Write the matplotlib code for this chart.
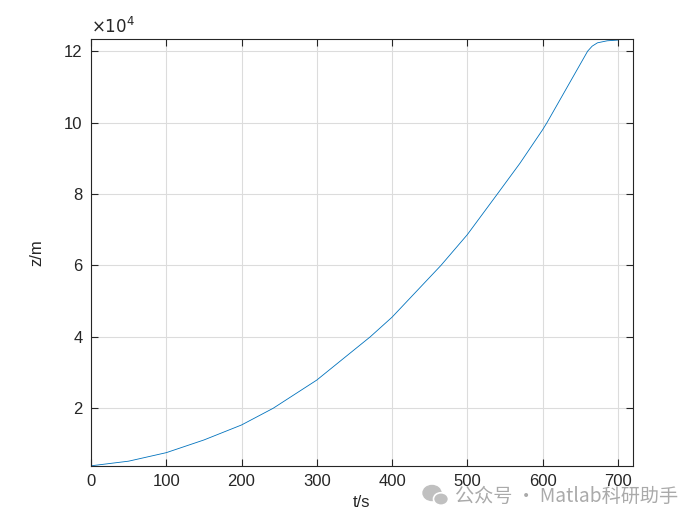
import numpy as np
import matplotlib.pyplot as plt
from matplotlib.patches import Ellipse

# values (time in s, altitude in m)
t_s = [0, 50, 100, 150, 200, 242, 300, 371, 400, 465, 500, 540, 570,
       600, 606, 660, 666, 673, 686, 700]
z_m = [3900, 5200, 7580, 11130, 15330, 20000, 27900, 40000, 45500, 60000,
       68600, 80000, 88600, 97950, 100000, 120000, 121400, 122330, 122900,
       123100]
x_ticks = [0, 100, 200, 300, 400, 500, 600, 700]
y_ticks = [20000, 40000, 60000, 80000, 100000, 120000]

plt.rcParams['font.family'] = ['Liberation Sans', 'DejaVu Sans']
dark = '#262626'

fig = plt.figure(figsize=(7, 5.25), dpi=100)
ax = fig.add_axes([0.13, 0.1124, 0.774, 0.8133])

ax.plot(t_s, z_m, color='#0072BD', linewidth=0.6)

ax.set_xlim(0, 720)
ax.set_ylim(3850, 123400)
ax.set_xticks(x_ticks)
ax.set_yticks(y_ticks)
ax.set_yticklabels([f'{v / 1e4:g}' for v in y_ticks])

ax.grid(True, color='#dcdcdc', linewidth=0.8)
ax.set_axisbelow(True)
ax.tick_params(direction='in', top=True, right=True, length=5, width=0.8,
               colors=dark, labelsize=12, pad=6)
for s in ax.spines.values():
    s.set_color(dark)
    s.set_linewidth(0.8)

ax.set_xlabel('t/s', fontsize=12, color=dark, labelpad=4)
ax.set_ylabel('z/m', fontsize=12, color=dark, labelpad=14)
ax.text(0.0, 1.005, r'$\times10^{4}$', transform=ax.transAxes, fontsize=12,
        color=dark, ha='left', va='bottom', family='DejaVu Sans')

# watermark
fig.text(455 / 700, 1 - 496 / 525, '公众号 · Matlab科研助手', fontsize=13.8,
         color='#aaaaaa', ha='left', va='center',
         family=['Noto Sans CJK SC', 'DejaVu Sans'])
wax = fig.add_axes([420 / 700, 1 - 508 / 525, 32 / 700, 26 / 525])
wax.set_xlim(0, 32)
wax.set_ylim(0, 26)
wax.axis('off')
wax.add_patch(Ellipse((12, 15), 18, 15, color='#c0c0c0'))
wax.add_patch(Ellipse((21, 9), 15, 12.5, color='#c0c0c0', ec='white', lw=1.2))

fig.savefig('out.png', dpi=100)
